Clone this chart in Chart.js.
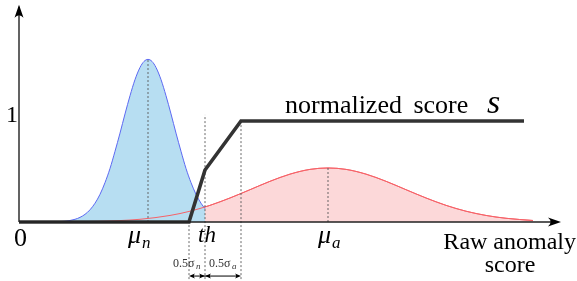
<!DOCTYPE html>
<html>
<head>
<meta charset="utf-8">
<script src="https://cdn.jsdelivr.net/npm/chart.js@4.4.0/dist/chart.umd.min.js"></script>
<style>
  html, body { margin: 0; padding: 0; background: #fff; }
  #wrap { width: 577px; height: 281px; }
  .fontload { font-family: "Liberation Serif"; position: absolute; left: -999px; top: 0; }
</style>
</head>
<body>
<span class="fontload">x</span><span class="fontload" style="font-style:italic">x</span>
<div id="wrap"><canvas id="myChart" width="577" height="281"></canvas></div>
<script>
// raw score positions (x) and densities
var normal_x = [40, 60, 70, 75, 80, 85, 90, 95, 100, 105, 110, 115, 120, 125, 130, 135, 140, 144, 148, 152, 156, 161, 166, 171, 176, 181, 186, 191, 196, 201, 205];
var normal_y = [0, 0.004, 0.015, 0.027, 0.046, 0.076, 0.121, 0.186, 0.274, 0.39, 0.53, 0.70, 0.88, 1.07, 1.25, 1.41, 1.53, 1.59, 1.61, 1.59, 1.53, 1.41, 1.25, 1.07, 0.88, 0.70, 0.53, 0.39, 0.274, 0.186, 0.132];

var anomaly_x = [60, 100, 140, 170, 190, 210, 230, 250, 270, 290, 310, 328, 346, 366, 386, 406, 426, 446, 466, 486, 506, 533];
var anomaly_y = [0.001, 0.007, 0.027, 0.065, 0.107, 0.165, 0.238, 0.32, 0.403, 0.474, 0.521, 0.535, 0.521, 0.474, 0.403, 0.32, 0.238, 0.165, 0.107, 0.065, 0.037, 0.015];

var score_x = [19, 189, 205, 241, 524];
var score_y = [0, 0, 0.515, 1, 1];

var mu_n = 148, mu_a = 328, th = 205, th_lo = 189, th_hi = 241;
var peak_n = 1.61, peak_a = 0.535;

var Y_MIN = -0.584, Y_MAX = 2.198;
var SERIF = '"Liberation Serif", "Times New Roman", Times, "DejaVu Serif", serif';

function pts(xs, ys) {
  var out = [];
  for (var i = 0; i < xs.length; i++) out.push({x: xs[i], y: ys[i]});
  return out;
}
function vline(x, y0, y1) {
  return [{x: x, y: y0}, {x: x, y: y1}];
}

var dotted = {
  borderColor: 'rgba(90,90,90,0.9)', borderWidth: 1, borderDash: [2, 2],
  pointRadius: 0, fill: false, order: 1
};

var arrowY = -0.535, dotBottom = -0.565;

function arrowHead(ctx, x, y, ang, len, wid) {
  ctx.save();
  ctx.translate(x, y);
  ctx.rotate(ang);
  ctx.beginPath();
  ctx.moveTo(0, 0);
  ctx.lineTo(-len, -wid / 2);
  ctx.quadraticCurveTo(-len * 0.6, 0, -len, wid / 2);
  ctx.closePath();
  ctx.fill();
  ctx.restore();
}

var decor = {
  id: 'decor',
  afterDatasetsDraw: function(chart) {
    var ctx = chart.ctx, xs = chart.scales.x, ys = chart.scales.y;
    var X = function(v) { return xs.getPixelForValue(v); };
    var Y = function(v) { return ys.getPixelForValue(v); };
    ctx.save();
    ctx.fillStyle = '#000';
    ctx.strokeStyle = '#222';
    ctx.lineWidth = 1.4;
    // axes
    ctx.beginPath();
    ctx.moveTo(X(19), Y(0)); ctx.lineTo(X(19), Y(2.13));
    ctx.moveTo(X(19), Y(0)); ctx.lineTo(X(554), Y(0));
    ctx.stroke();
    arrowHead(ctx, X(19), Y(2.15), -Math.PI / 2, 13, 9);
    arrowHead(ctx, X(561), Y(0), 0, 13, 9);

    // sigma arrows
    ctx.lineWidth = 1;
    ctx.strokeStyle = '#000';
    ctx.beginPath();
    ctx.moveTo(X(th_lo) + 3, Y(arrowY)); ctx.lineTo(X(th_hi) - 3, Y(arrowY));
    ctx.stroke();
    arrowHead(ctx, X(th_lo), Y(arrowY), Math.PI, 6, 5);
    arrowHead(ctx, X(th), Y(arrowY), 0, 6, 5);
    arrowHead(ctx, X(th), Y(arrowY), Math.PI, 6, 5);
    arrowHead(ctx, X(th_hi), Y(arrowY), 0, 6, 5);

    // text
    ctx.textBaseline = 'alphabetic';
    ctx.textAlign = 'center';
    ctx.font = '24px ' + SERIF;
    ctx.fillText('1', X(12), Y(0.99));
    ctx.font = '26px ' + SERIF;
    ctx.fillText('0', X(20.5), Y(-0.238));
    ctx.font = 'italic 23px ' + SERIF;
    ctx.fillText('th', X(207), Y(-0.198));

    ctx.textAlign = 'left';
    ctx.font = 'italic 26px ' + SERIF;
    ctx.fillText('\u03bc', X(128), Y(-0.208));
    ctx.fillText('\u03bc', X(318), Y(-0.208));
    ctx.font = 'italic 17px ' + SERIF;
    ctx.fillText('n', X(142), Y(-0.257));
    ctx.fillText('a', X(332), Y(-0.257));

    ctx.font = '24px ' + SERIF;
    ctx.textAlign = 'right';
    ctx.fillText('Raw anomaly', X(576), Y(-0.267));
    ctx.textAlign = 'center';
    ctx.fillText('score', X(510), Y(-0.495));

    ctx.textAlign = 'left';
    ctx.font = '26px ' + SERIF;
    ctx.wordSpacing = '5px';
    ctx.fillText('normalized score', X(285), Y(1.079));
    ctx.wordSpacing = '0px';
    ctx.font = 'italic 34px ' + SERIF;
    ctx.fillText('s', X(487), Y(1.079));

    ctx.fillStyle = '#333';
    ctx.font = '12px ' + SERIF;
    ctx.fillText('0.5\u03c3', X(173), Y(-0.446));
    ctx.fillText('0.5\u03c3', X(209), Y(-0.446));
    ctx.font = 'italic 9px ' + SERIF;
    ctx.fillText('n', X(196), Y(-0.466));
    ctx.fillText('a', X(232), Y(-0.466));
    ctx.restore();
  }
};

var ctx = document.getElementById("myChart");
var myChart = new Chart(ctx, {
  type: 'line',
  data: {
    datasets: [
      {
        label: 'normalized score',
        data: pts(score_x, score_y),
        borderColor: '#333', borderWidth: 3.6, pointRadius: 0,
        tension: 0, fill: false, order: 0, borderJoinStyle: 'miter'
      },
      Object.assign({ data: vline(mu_n, 0, peak_n) }, dotted),
      Object.assign({ data: vline(mu_a, 0, peak_a) }, dotted),
      Object.assign({ data: vline(th, dotBottom, 1.06) }, dotted),
      Object.assign({ data: vline(th_lo, dotBottom, 0) }, dotted),
      Object.assign({ data: vline(th_hi, dotBottom, 1) }, dotted),
      {
        label: 'anomaly line',
        data: pts(anomaly_x, anomaly_y),
        borderColor: 'rgb(246,98,104)', borderWidth: 1, pointRadius: 0,
        cubicInterpolationMode: 'monotone', fill: false, order: 2
      },
      {
        label: 'normal',
        data: pts(normal_x, normal_y),
        borderColor: 'rgb(92,104,242)', borderWidth: 1, pointRadius: 0,
        backgroundColor: 'rgb(183,222,242)',
        cubicInterpolationMode: 'monotone', fill: 'origin', order: 3
      },
      {
        label: 'anomaly',
        data: pts(anomaly_x, anomaly_y),
        borderColor: 'rgb(246,98,104)', borderWidth: 1, pointRadius: 0,
        backgroundColor: 'rgb(252,216,217)',
        cubicInterpolationMode: 'monotone', fill: 'origin', order: 4
      }
    ]
  },
  options: {
    responsive: false,
    animation: false,
    layout: { padding: 0 },
    plugins: { legend: { display: false }, tooltip: { enabled: false } },
    scales: {
      x: { type: 'linear', display: false, min: 0, max: 577 },
      y: { type: 'linear', display: false, min: Y_MIN, max: Y_MAX }
    }
  },
  plugins: [decor]
});
</script>
</body>
</html>
